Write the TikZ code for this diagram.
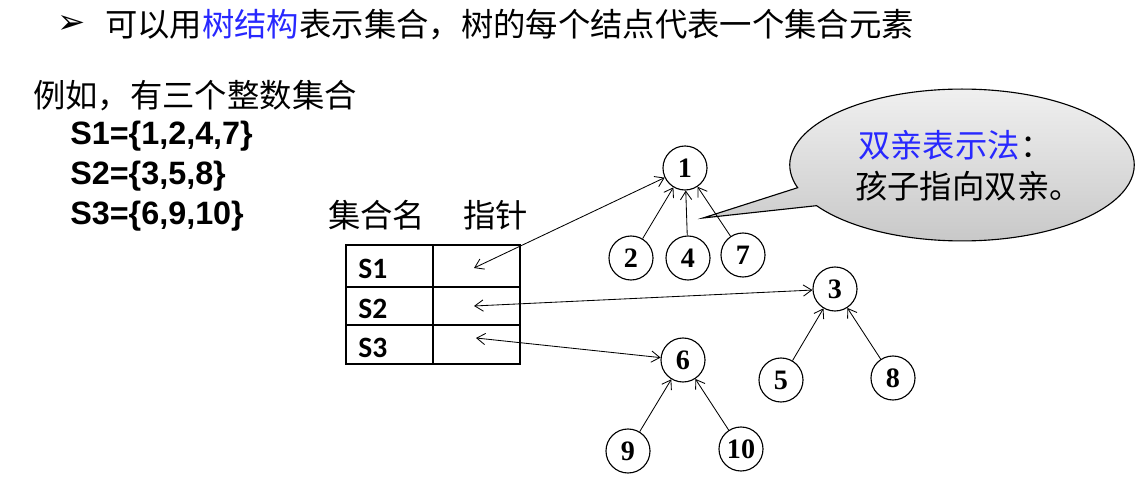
\documentclass[tikz,border=0pt]{standalone}
\usepackage{fontspec}
\setmainfont{Liberation Serif}
\newfontfamily\cjk{Noto Sans CJK SC}
\newfontfamily\dejavu{DejaVu Sans}
\newfontfamily\arialb{Liberation Sans}
\newfontfamily\calb{Carlito}
\usetikzlibrary{arrows.meta,shapes.callouts}
\definecolor{hb}{RGB}{40,40,255}
\begin{document}
\begin{tikzpicture}[x=0.025cm,y=-0.025cm,
  nd/.style={circle,draw,thick,minimum size=1.1cm,inner sep=0pt,font=\bfseries\fontsize{20}{20}\selectfont},
  ar/.style={semithick,-{Straight Barb[length=6pt,width=8pt]}},
  dar/.style={semithick,{Straight Barb[length=6pt,width=8pt]}-{Straight Barb[length=6pt,width=8pt]}},
  cj/.style={font=\cjk\fontsize{23}{26}\selectfont,inner sep=0pt,anchor=west},
  sb/.style={font=\arialb\bfseries\fontsize{23}{25}\selectfont,inner sep=0pt,anchor=west}]
\useasboundingbox (0,0) rectangle (1146,484);
\node[font=\dejavu\fontsize{24}{24}\selectfont,inner sep=0pt] (b) at (72,25) {➢};
\node[cj] (h) at (105,25) {可以用\textcolor{hb}{树结构}表示集合，树的每个结点代表一个集合元素};
\node[cj] (e) at (33,96) {例如，有三个整数集合};
\node[sb] (s1) at (70,136) {S1=\{1,2,4,7\}};
\node[sb] (s2) at (70,176) {S2=\{3,5,8\}};
\node[sb] (s3) at (70,216) {S3=\{6,9,10\}};
\node[cj] (c1) at (328,215) {集合名};
\node[cj] (c2) at (463,215) {指针};
% table
\draw[thick] (346,245) rectangle (520,364);
\draw[thick] (433,245) -- (433,364) (346,287) -- (520,287) (346,325) -- (520,325);
\foreach \t/\y in {S1/269,S2/309,S3/348}
  \node[font=\calb\bfseries\fontsize{21}{21}\selectfont,anchor=west,inner sep=0pt] (t\t) at (358,\y) {\t};
\coordinate (p1) at (474,268);
\coordinate (p2) at (474,306);
\coordinate (p3) at (476,338);
% callout
\node[ellipse callout,draw,thick,minimum width=245pt,minimum height=108pt,
  top color=gray!12,bottom color=gray!45,callout absolute pointer={(703,218)}] (co) at (962,165) {};
\node[font=\cjk\fontsize{23}{26}\selectfont,anchor=west,inner sep=0pt,text=hb] (l1) at (858,145) {双亲表示法\textcolor{black}{：}};
\node[font=\cjk\fontsize{23}{26}\selectfont,anchor=west,inner sep=0pt] (l2) at (855,186) {孩子指向双亲。};
% nodes
\node[nd] (n1) at (685,168) {1};
\node[nd] (n2) at (631,258) {2};
\node[nd] (n4) at (688,258) {4};
\node[nd] (n7) at (743,255) {7};
\node[nd] (n3) at (835,289) {3};
\node[nd] (n5) at (781,380) {5};
\node[nd] (n8) at (893,378) {8};
\node[nd] (n6) at (683,360) {6};
\node[nd] (n9) at (628,451) {9};
\node[nd] (n10) at (741,449) {10};
\foreach \c/\p in {n2/n1,n4/n1,n7/n1,n5/n3,n8/n3,n9/n6,n10/n6}
  \draw[ar] (\c) -- (\p);
\draw[dar] (p1) -- (n1);
\draw[dar] (p2) -- (n3);
\draw[dar] (p3) -- (n6);
\end{tikzpicture}
\end{document}
